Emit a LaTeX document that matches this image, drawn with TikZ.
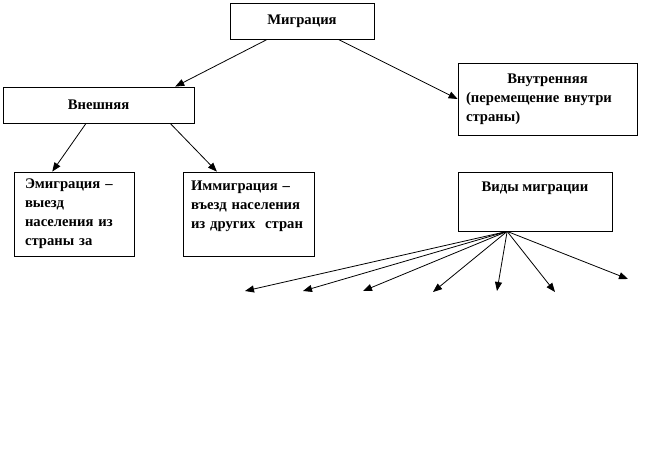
\documentclass[tikz,border=0pt]{standalone}
\usepackage{fontspec}
\setmainfont{Liberation Serif}
\usetikzlibrary{arrows.meta}
\usetikzlibrary{calc}

\tikzset{
  box/.style={draw, line width=0.8pt, inner sep=0pt,
              font=\bfseries\fontsize{14.67}{19}\selectfont},
  link/.style={line width=0.8pt, -{Triangle[length=9pt,width=7pt]}}
}

\begin{document}
\begin{tikzpicture}[x=1pt,y=-1pt]

\useasboundingbox[fill=white] (0,0) rectangle (654,462);

%---------------------------------------
% Boxes
%---------------------------------------
\node[box, minimum width=144, minimum height=36] (migr) at (302,21) {Миграция};

\node[box, minimum width=191, minimum height=36] (vnesh) at (98.5,105) {Внешняя};

\node[box, minimum width=179, minimum height=72, text width=163, align=left]
  (vnutr) at (547.5,99)
  {{\centering Внутренняя\par}(перемещение внутри\\страны)};

\node[box, minimum width=120, minimum height=84, text width=98, align=left]
  (emigr) at (74,214)
  {Эмиграция –\\выезд\\населения из\\страны за};

\node[box, minimum width=131, minimum height=84, text width=115, align=left]
  (immigr) at (248.5,214)
  {Иммиграция –\\въезд населения\\из других\ \ стран\\ ~};

\node[box, minimum width=154, text height=20, text depth=39]
  (vidy) at (535,201.5) {Виды миграции};

%---------------------------------------
% Connectors
%---------------------------------------
\draw[link] ($(migr.south west)!0.26!(migr.south east)$)
         -- ($(vnesh.north west)!0.9!(vnesh.north east)$);
\draw[link] ($(migr.south west)!0.75!(migr.south east)$) -- (vnutr.west);

\draw[link] ($(vnesh.south west)!0.435!(vnesh.south east)$)
         -- ($(emigr.north west)!0.32!(emigr.north east)$);
\draw[link] ($(vnesh.south west)!0.874!(vnesh.south east)$)
         -- ($(immigr.north west)!0.26!(immigr.north east)$);

% fan of arrows below "Виды миграции"
\coordinate (hub) at ($(vidy.south west)!0.32!(vidy.south east)$);
\foreach \n/\x/\y in {1/245/291, 2/303/291, 3/363/291, 4/433/292,
                      5/497/291, 6/555/292, 7/628/279}{
  \coordinate (tip\n) at (\x,\y);
  \draw[link] (hub) -- (tip\n);
}

\end{tikzpicture}
\end{document}
